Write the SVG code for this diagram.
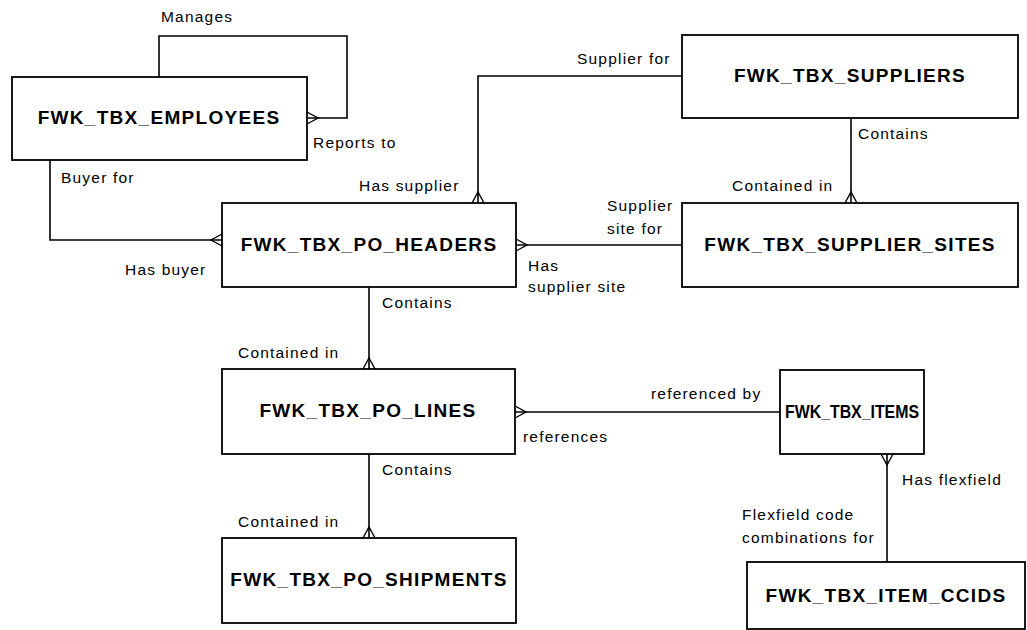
<svg xmlns="http://www.w3.org/2000/svg" width="1027" height="630" viewBox="0 0 1027 630">
  <style>
    .box { fill: #ffffff; stroke: #000000; stroke-width: 1.8; }
    .title { font-family: "Liberation Sans", Arial, sans-serif; font-weight: bold; font-size: 19px; letter-spacing: 1.3px; text-anchor: middle; fill: #000000; }
    .lbl { font-family: "Liberation Sans", Arial, sans-serif; font-size: 15.5px; letter-spacing: 1.2px; fill: #000000; }
    .conn { fill: none; stroke: #000000; stroke-width: 1.6; }
    .foot { fill: none; stroke: #000000; stroke-width: 1.4; }
  </style>
  <rect width="1027" height="630" fill="#ffffff"/>

  <!-- relationships -->
  <g id="connectors">
    <!-- Manages / Reports to (self relation) -->
    <polyline class="conn" points="159,77 159,36 347,36 347,118 307,118"/>
    <path class="foot" d="M307,112 L318,118 L307,124"/>
    <!-- Buyer for / Has buyer -->
    <polyline class="conn" points="50,160 50,240 222,240"/>
    <path class="foot" d="M222,234 L211,240 L222,246"/>
    <!-- Supplier for / Has supplier -->
    <polyline class="conn" points="682,76 478,76 478,203"/>
    <path class="foot" d="M472,203 L478,192 L484,203"/>
    <!-- Supplier site for / Has supplier site -->
    <line class="conn" x1="516" y1="245" x2="682" y2="245"/>
    <path class="foot" d="M516,239 L527,245 L516,251"/>
    <!-- Suppliers contain sites -->
    <line class="conn" x1="851" y1="118" x2="851" y2="203"/>
    <path class="foot" d="M845,203 L851,192 L857,203"/>
    <!-- Headers contain lines -->
    <line class="conn" x1="369" y1="287" x2="369" y2="369"/>
    <path class="foot" d="M363,369 L369,358 L375,369"/>
    <!-- Lines reference items -->
    <line class="conn" x1="515" y1="412" x2="780" y2="412"/>
    <path class="foot" d="M515,406 L526,412 L515,418"/>
    <!-- Lines contain shipments -->
    <line class="conn" x1="369" y1="454" x2="369" y2="538"/>
    <path class="foot" d="M363,538 L369,527 L375,538"/>
    <!-- Items flexfield -->
    <line class="conn" x1="887" y1="454" x2="887" y2="562"/>
    <path class="foot" d="M881,454 L887,465 L893,454"/>
  </g>

  <g id="employees">
    <rect class="box" x="12" y="77" width="295" height="83"/>
    <text class="title" x="159" y="124">FWK_TBX_EMPLOYEES</text>
  </g>
  <g id="suppliers">
    <rect class="box" x="682" y="35" width="336" height="83"/>
    <text class="title" x="850" y="82">FWK_TBX_SUPPLIERS</text>
  </g>
  <g id="po-headers">
    <rect class="box" x="222" y="203" width="294" height="84"/>
    <text class="title" x="369" y="251">FWK_TBX_PO_HEADERS</text>
  </g>
  <g id="supplier-sites">
    <rect class="box" x="682" y="203" width="336" height="84"/>
    <text class="title" x="850" y="251">FWK_TBX_SUPPLIER_SITES</text>
  </g>
  <g id="po-lines">
    <rect class="box" x="222" y="369" width="293" height="85"/>
    <text class="title" x="368" y="417">FWK_TBX_PO_LINES</text>
  </g>
  <g id="items">
    <rect class="box" x="780" y="370" width="144" height="84"/>
    <text class="title" x="852" y="418" style="font-size:18px;letter-spacing:0" textLength="134" lengthAdjust="spacingAndGlyphs">FWK_TBX_ITEMS</text>
  </g>
  <g id="po-shipments">
    <rect class="box" x="222" y="538" width="294" height="85"/>
    <text class="title" x="369" y="586">FWK_TBX_PO_SHIPMENTS</text>
  </g>
  <g id="item-ccids">
    <rect class="box" x="747" y="562" width="278" height="67"/>
    <text class="title" x="886" y="602">FWK_TBX_ITEM_CCIDS</text>
  </g>

  <g id="labels">
    <text class="lbl" x="161" y="22">Manages</text>
    <text class="lbl" x="313" y="148">Reports to</text>
    <text class="lbl" x="61" y="183">Buyer for</text>
    <text class="lbl" x="125" y="275">Has buyer</text>
    <text class="lbl" x="359" y="191">Has supplier</text>
    <text class="lbl" x="577" y="64">Supplier for</text>
    <text class="lbl" x="607" y="211">Supplier</text>
    <text class="lbl" x="607" y="234">site for</text>
    <text class="lbl" x="528" y="271">Has</text>
    <text class="lbl" x="528" y="292">supplier site</text>
    <text class="lbl" x="858" y="139">Contains</text>
    <text class="lbl" x="732" y="191">Contained in</text>
    <text class="lbl" x="382" y="308">Contains</text>
    <text class="lbl" x="238" y="358">Contained in</text>
    <text class="lbl" x="651" y="399">referenced by</text>
    <text class="lbl" x="523" y="442">references</text>
    <text class="lbl" x="902" y="485">Has flexfield</text>
    <text class="lbl" x="742" y="520">Flexfield code</text>
    <text class="lbl" x="742" y="543">combinations for</text>
    <text class="lbl" x="382" y="475">Contains</text>
    <text class="lbl" x="238" y="527">Contained in</text>
  </g>
</svg>
